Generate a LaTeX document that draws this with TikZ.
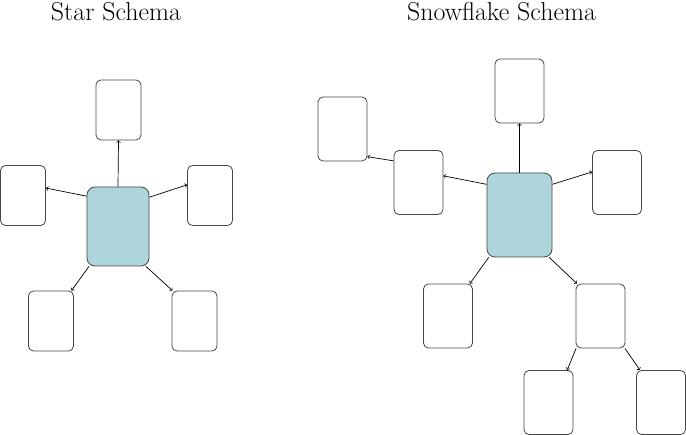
\documentclass[tikz,border=0pt]{standalone}
\usetikzlibrary{arrows}
\definecolor{factblue}{RGB}{173,213,219}
\definecolor{edgegray}{RGB}{70,70,70}
\begin{document}
\begin{tikzpicture}[x=1bp, y=-1bp,
    title/.style={anchor=base, font={\fontsize{26}{30}\selectfont}},
    box/.style={draw=edgegray, line width=0.8bp, inner sep=0pt, rounded corners=5bp},
    dim/.style={box, minimum width=45bp, minimum height=60bp},
    sdim/.style={box, minimum width=49bp, minimum height=64bp},
    fact/.style={box, fill=factblue, rounded corners=8bp},
    link/.style={->, line width=0.7bp, black}]
  \useasboundingbox (0,0) rectangle (686,435);
  % titles
  \node[title] (startitle) at (116,20.5) {Star Schema};
  \node[title] (snowtitle) at (501.5,20.5) {Snowflake Schema};
  % star schema
  \node[fact, minimum width=62bp, minimum height=79bp] (sf) at (118,226.5) {};
  \foreach \n/\x/\y in {st/118.5/110, sl/23/195.5, sr/210/195.5, sbl/51/321, sbr/194.5/321} {
    \node[dim] (\n) at (\x,\y) {};
  }
  \foreach \a/\b in {sf.north/st.south, sf.136/sl.18, sf.43/sr.155, sf.234/sbl.56, sf.305/sbr.126} {
    \draw[link] (\a) -- (\b);
  }
  % snowflake schema
  \node[fact, minimum width=65bp, minimum height=84bp] (ff) at (519.5,215) {};
  \foreach \n/\x/\y in {ft/519.5/91, fml/418.5/182.5, ffl/342.5/129, fr/617/182.5, fbl/448/316, fbm/600.5/316, fll/548.5/402.5, flr/661/402.5} {
    \node[sdim] (\n) at (\x,\y) {};
  }
  \foreach \a/\b in {ff.north/ft.south, ff.137/fml.15, fml.139/ffl.312, ff.43/fr.157, ff.234/fbl.56, ff.305/fbm.126, fbm.233/fll.60, fbm.307/flr.123} {
    \draw[link] (\a) -- (\b);
  }
\end{tikzpicture}
\end{document}
